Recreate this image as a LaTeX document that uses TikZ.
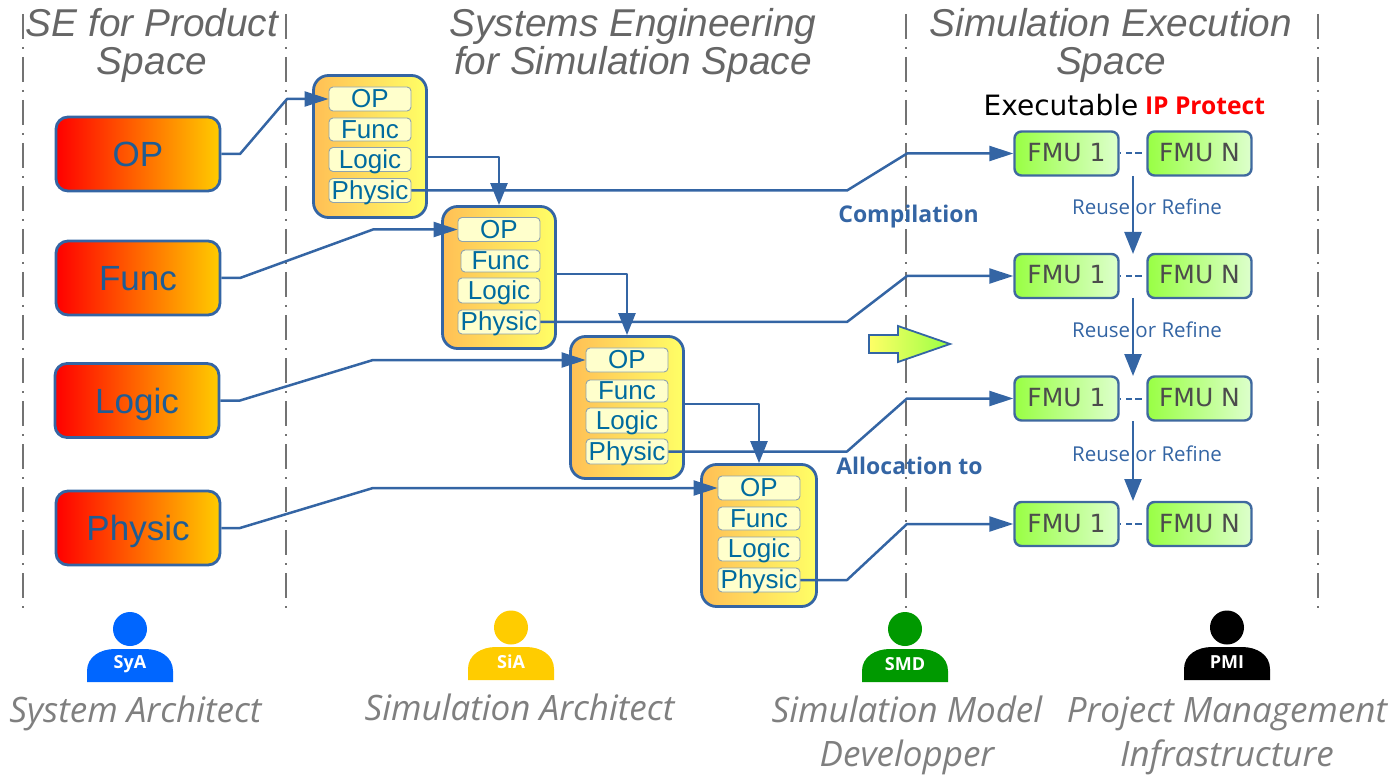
\documentclass[tikz,border=0pt]{standalone}
\usepackage{fontspec}
\setmainfont{Liberation Sans}
\newfontfamily\opensans{Open Sans}
\newfontfamily\dejavu{DejaVu Sans}
\usetikzlibrary{arrows.meta,calc}
\definecolor{linkblue}{HTML}{3465A4}
\definecolor{headgrey}{HTML}{666666}
\definecolor{rolegrey}{HTML}{7F7F7F}
\definecolor{innertext}{HTML}{006B9F}
\definecolor{sptext}{HTML}{1F5C94}
\definecolor{boxorange}{HTML}{FFCC00}
\definecolor{stackleft}{HTML}{FFBF55}
\definecolor{stackright}{HTML}{FFFF66}
\definecolor{fmuleft}{HTML}{99FF44}
\definecolor{fmuright}{HTML}{DDFFCC}
\definecolor{viewfill}{HTML}{FFFFCC}
\definecolor{viewline}{HTML}{8FA3AD}
\definecolor{roleblue}{HTML}{0066FF}
\definecolor{rolegold}{HTML}{FFCC00}
\definecolor{rolegreen}{HTML}{009900}
\newcommand{\fs}[1]{\fontsize{#1}{#1}\selectfont}
\tikzset{
  x=1pt,y=-1pt,
  spacebox/.style={draw=linkblue,line width=2.8pt,rounded corners=12pt,left color=red,right color=boxorange,minimum width=164pt,minimum height=74pt,inner sep=0pt,text=sptext,font=\fs{35},text height=25pt,text depth=0pt},
  stackbox/.style={draw=linkblue,line width=2.8pt,rounded corners=15pt,left color=stackleft,right color=stackright,minimum width=113pt,minimum height=142pt,inner sep=0pt},
  viewbox/.style={draw=viewline,line width=.9pt,rounded corners=4pt,fill=viewfill,minimum width=82pt,minimum height=24pt,inner sep=0pt,text=innertext,font=\fs{26},text height=18.7pt,text depth=1pt},
  fmubox/.style={draw=linkblue!85!gray,line width=2.4pt,rounded corners=7pt,left color=fmuleft,right color=fmuright,minimum width=104pt,minimum height=44pt,inner sep=0pt,text=black!70,font=\dejavu\fs{25},text height=18pt,text depth=2pt},
  link/.style={draw=linkblue,line width=2.5pt,line join=round},
  tip/.style={-{Triangle[length=24pt,width=15pt]}},
  downtip/.style={-{Triangle[length=22pt,width=17pt]}},
  sep/.style={draw=gray!90!black,line width=1.1pt,dash pattern=on 25pt off 8pt on 2pt off 8pt},
  heading/.style={text=headgrey,font=\itshape\fs{38.8},inner sep=0pt,anchor=base},
  role/.style={text=rolegrey,font=\opensans\itshape\fs{35},inner sep=0pt,anchor=base},
  note/.style={text=linkblue,font=\opensans\bfseries\fs{23},inner sep=0pt},
  reuse/.style={text=linkblue,font=\opensans\fs{20.5},inner sep=0pt},
  persontext/.style={text=white,font=\opensans\bfseries\fs{18},inner sep=0pt},
}
% person icon: name, head x, head y, body top y, colour, label
\newcommand{\personicon}[6]{%
  \fill[#5] (#2,#3) circle (17);
  \fill[#5] ({#2-43},{#4+33}) -- ({#2-43},{#4+22}) .. controls ({#2-43},{#4+8}) and ({#2-30},{#4}) .. ({#2-15},{#4})
     -- ({#2+15},{#4}) .. controls ({#2+30},{#4}) and ({#2+43},{#4+8}) .. ({#2+43},{#4+22}) -- ({#2+43},{#4+33}) -- cycle;
  \node[persontext] (#1) at (#2,{#4+15}) {#6};
}
\begin{document}
\begin{tikzpicture}
\useasboundingbox (0,0) rectangle (1394,775);
% separators
\coordinate (s1a) at (23,14);  \coordinate (s1b) at (23,612);
\coordinate (s2a) at (286,14); \coordinate (s2b) at (286,612);
\coordinate (s3a) at (906,14); \coordinate (s3b) at (906,612);
\coordinate (s4a) at (1318,14);\coordinate (s4b) at (1318,612);
\draw[sep] (s1a) -- (s1b);
\draw[sep] (s2a) -- (s2b);
\draw[sep] (s3a) -- (s3b);
\draw[sep] (s4a) -- (s4b);
% headings
\node[heading] (h1a) at (152,36.5) {SE for Product};
\node[heading] (h1b) at (152,75) {Space};
\node[heading] (h2a) at (633,36.5) {Systems Engineering};
\node[heading] (h2b) at (633,75) {for Simulation Space};
\node[heading] (h3a) at (1111,36.5) {Simulation Execution};
\node[heading] (h3b) at (1111,75) {Space};
% left boxes
\node[spacebox] (sop) at (138,154) {OP};
\node[spacebox] (sfu) at (138,278) {Func};
\node[spacebox] (slo) at (137,400.5) {Logic};
\node[spacebox] (sph) at (138,528) {Physic};
% stacks
\node[stackbox] (a) at (370,146.5) {};
\node[stackbox] (b) at (499,277.5) {};
\node[stackbox] (c) at (627,407.5) {};
\node[stackbox,minimum width=115pt] (d) at (759,535.5) {};
% bend coordinates
\coordinate (ab) at (499,157);
\coordinate (bc) at (627,274);
\coordinate (cd) at (759,404);
\draw[link,downtip] (a.east |- ab) -- (ab) -- (b.north);
\draw[link,downtip] (b.east |- bc) -- (bc) -- (c.north);
\draw[link,downtip] (c.east |- cd) -- (cd) -- (d.north);
% inner boxes
\node[viewbox] (aop) at (370,99) {OP};
\node[viewbox,minimum height=23pt] (afu) at (370,129.5) {Func};
\node[viewbox] (alo) at (370,159.5) {Logic};
\node[viewbox] (aph) at (370,190.5) {Physic};
\node[viewbox] (bop) at (499,229.5) {OP};
\node[viewbox,minimum width=79pt,minimum height=22pt] (bfu) at (500.5,261) {Func};
\node[viewbox,minimum height=25pt] (blo) at (499,290.5) {Logic};
\node[viewbox] (bph) at (499,322) {Physic};
\node[viewbox] (cop) at (627,360) {OP};
\node[viewbox,minimum height=22pt] (cfu) at (627,391) {Func};
\node[viewbox,minimum height=25pt] (clo) at (627,420.5) {Logic};
\node[viewbox,minimum height=25pt] (cph) at (627,451.5) {Physic};
\node[viewbox] (dop) at (759,488) {OP};
\node[viewbox,minimum height=23pt] (dfu) at (759,518.5) {Func};
\node[viewbox] (dlo) at (759,549) {Logic};
\node[viewbox] (dph) at (759,580) {Physic};
% FMUs
\foreach \n/\y in {p/153.5,q/276,r/398.5,s/524}{
  \node[fmubox] (\n1) at (1066.5,\y) {FMU 1};
  \node[fmubox] (\n2) at (1199.5,\y) {FMU N};
  \draw[link,line width=2pt,dash pattern=on 1.5pt off 5pt on 6pt off 3pt on 7pt off 8pt] (\n1) -- (\n2);
}
% input links
\coordinate (i1a) at (240,154); \coordinate (i1b) at (287,99);
\coordinate (i2a) at (240,278); \coordinate (i2b) at (373,229.5);
\coordinate (i3a) at (240,400.5); \coordinate (i3b) at (373,360);
\coordinate (i4a) at (240,528); \coordinate (i4b) at (373,488);
\draw[link,tip] (sop.east) -- (i1a) -- (i1b) -- (aop.west);
\draw[link,tip] (sfu.east) -- (i2a) -- (i2b) -- (bop.west);
\draw[link,tip] (slo.east) -- (i3a) -- (i3b) -- (cop.west);
\draw[link,tip] (sph.east) -- (i4a) -- (i4b) -- (dop.west);
% output links
\coordinate (o1a) at (847,190.5); \coordinate (o1b) at (907,153.5);
\coordinate (o2a) at (847,322);   \coordinate (o2b) at (907,276);
\coordinate (o3a) at (847,451.5); \coordinate (o3b) at (907,398.5);
\coordinate (o4a) at (847,580);   \coordinate (o4b) at (907,524);
\draw[link,tip] (aph.east) -- (o1a) -- (o1b) -- (p1.west);
\draw[link,tip] (bph.east) -- (o2a) -- (o2b) -- (q1.west);
\draw[link,tip] (cph.east) -- (o3a) -- (o3b) -- (r1.west);
\draw[link,tip] (dph.east) -- (o4a) -- (o4b) -- (s1.west);
% big arrow
\draw[linkblue,line width=1.8pt,line join=miter,left color=stackright,right color=fmuleft]
  (869,335) -- (898,335) -- (898,326) -- (950,344) -- (898,362) -- (898,353) -- (869,353) -- cycle;
% reuse texts and arrows
\node[reuse] (r1t) at (1147,207) {Reuse or Refine};
\node[reuse] (r2t) at (1147,330) {Reuse or Refine};
\node[reuse] (r3t) at (1147,454) {Reuse or Refine};
\coordinate (d1a) at (1133,176); \coordinate (d1b) at (1133,254);
\coordinate (d2a) at (1133,298); \coordinate (d2b) at (1133,376);
\coordinate (d3a) at (1133,421); \coordinate (d3b) at (1133,501);
\draw[link,downtip] (d1a) -- (d1b);
\draw[link,downtip] (d2a) -- (d2b);
\draw[link,downtip] (d3a) -- (d3b);
% notes
\node[note] (n1) at (908.5,217) {Compilation};
\node[note] (n2) at (909.5,466) {Allocation to};
\node[text=black,font=\dejavu\fs{28},inner sep=0pt,anchor=base] (ex) at (1061,116) {Executable};
\node[text=red,font=\opensans\bfseries\fs{24.6},inner sep=0pt,anchor=base] (ip) at (1205,115) {IP Protect};
% people
\personicon{pa}{130}{629}{649}{roleblue}{SyA}
\personicon{pb}{511}{627.5}{647}{rolegold}{SiA}
\personicon{pc}{905}{629}{649}{rolegreen}{SMD}
\personicon{pd}{1227}{627.5}{647}{black}{PMI}
% roles
\node[role] (ra) at (135.5,722) {System Architect};
\node[role] (rb) at (519.5,720) {Simulation Architect};
\node[role] (rc) at (907,722) {Simulation Model};
\node[role] (rc2) at (907,766) {Developper};
\node[role] (rd) at (1227,722) {Project Management};
\node[role] (rd2) at (1227,766) {Infrastructure};
\end{tikzpicture}
\end{document}
